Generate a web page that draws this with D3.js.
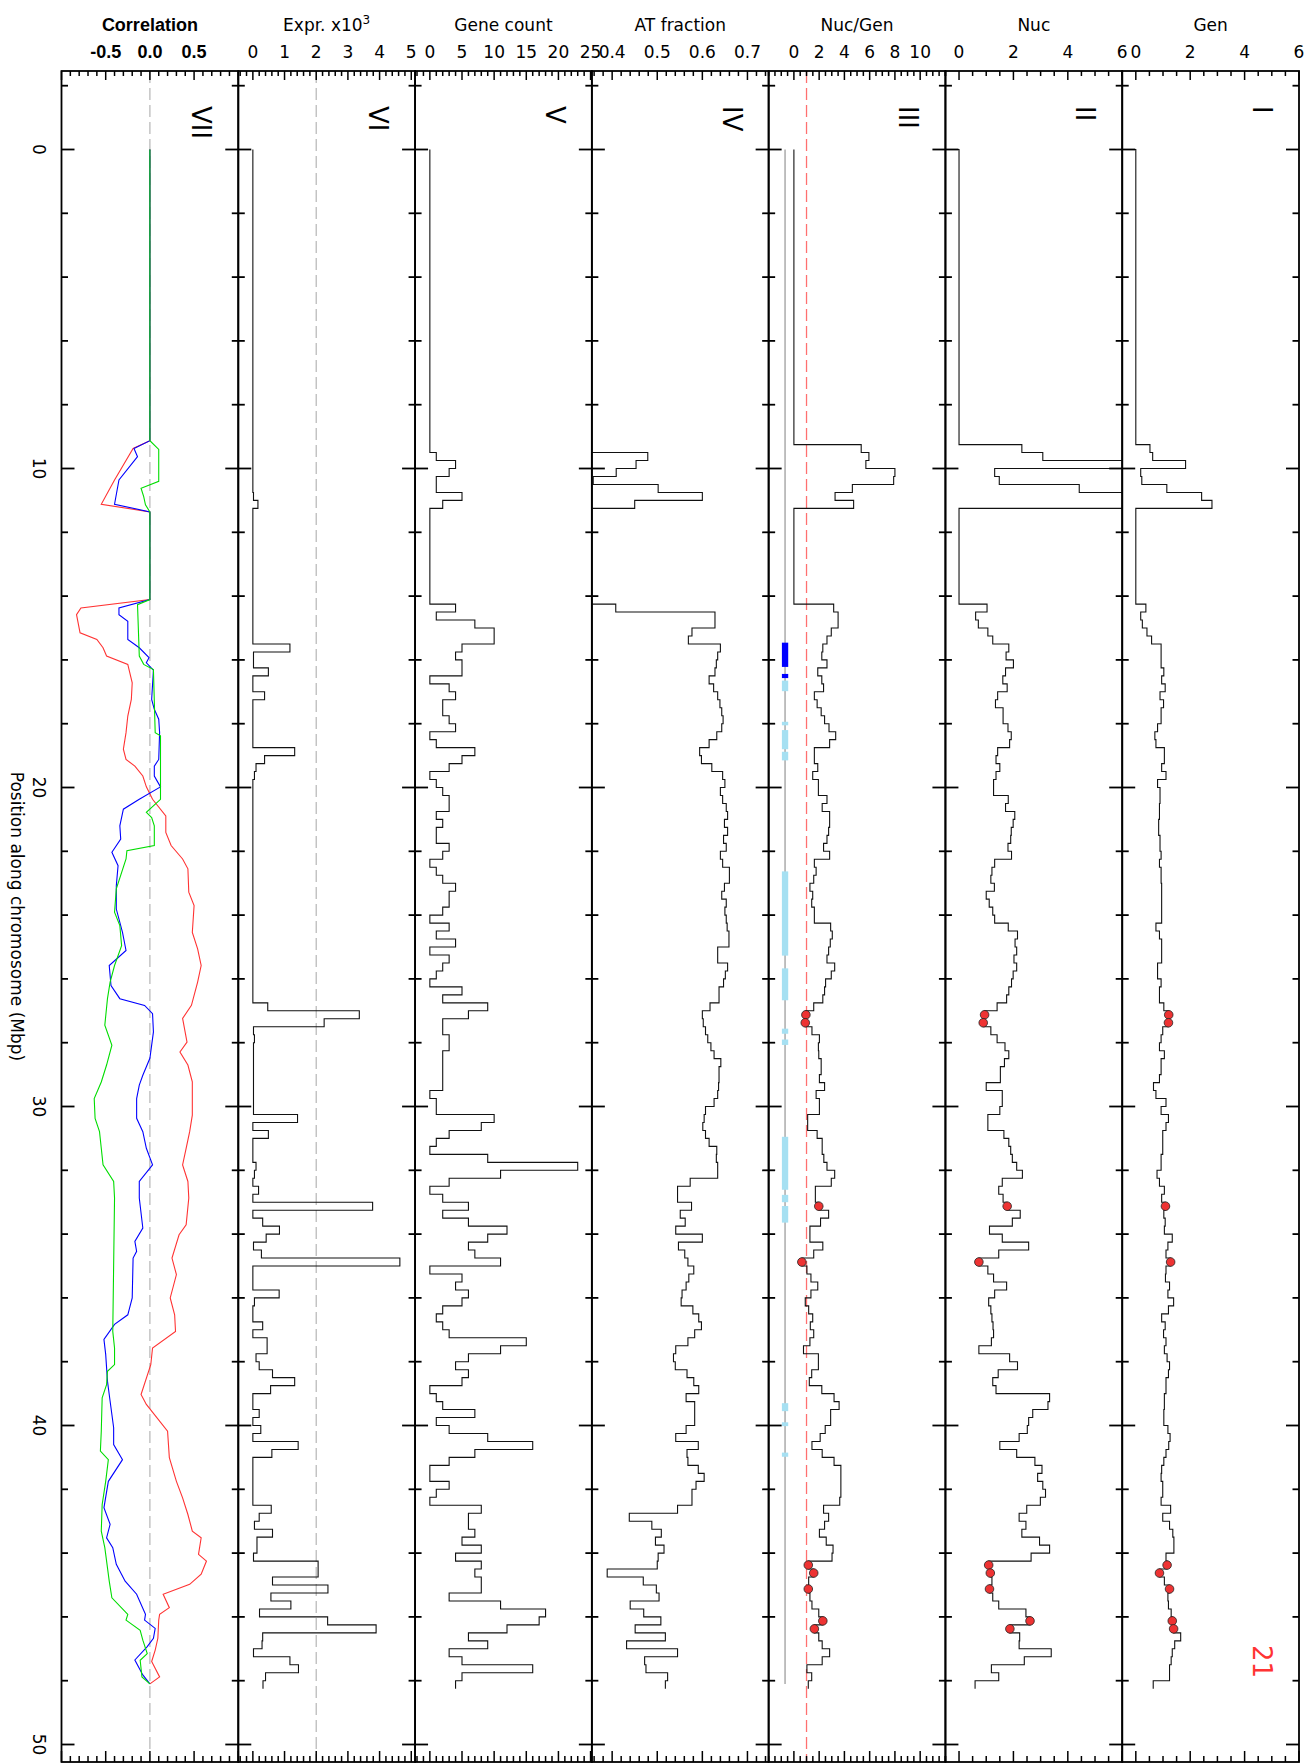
<!DOCTYPE html>
<html>
<head>
<meta charset="utf-8">
<script src="https://cdn.jsdelivr.net/npm/d3@7"></script>
<style>
  body { margin: 0; background: #fff; }
  svg { display: block; }
  text { font-family: "DejaVu Sans", "Liberation Sans", Arial, sans-serif; fill: #000; }
  text.bold { font-family: "Liberation Sans", Arial, sans-serif; font-weight: bold; }
</style>
</head>
<body>
<svg id="chart" width="1315" height="1764"></svg>
<script>
// ---------------- DATA ----------------
const panelTitles   = ["Correlation", "Expr. x10", "Gene count", "AT fraction", "Nuc/Gen", "Nuc", "Gen"];
const panelNumerals = ["VII", "VI", "V", "IV", "III", "II", "I"];
const panelDomains  = [[-1, 1], [-0.46, 5.12], [-2.3, 25.2], [0.355, 0.747], [-2, 12], [-0.5, 6], [-0.5, 6]];
const panelTickLabels = [
  [-0.5, 0, 0.5],
  [0, 1, 2, 3, 4, 5],
  [0, 5, 10, 15, 20, 25],
  [0.4, 0.5, 0.6, 0.7],
  [0, 2, 4, 6, 8, 10],
  [0, 2, 4, 6],
  [0, 2, 4, 6]
];
const panelMinorStep = [0.1, 0.2, 1, 0.02, 0.5, 0.5, 0.5];
const positionTicks = [0, 10, 20, 30, 40, 50];
const chromosomeLabel = "21";
const chromEnd = 48.25;
const trackEnd = 48.1;

// Correlation traces: [position Mbp, r]
const corrRed = [[0,0],[9.13,0],[9.37,-0.19],[10.36,-0.40],[11.12,-0.55],[11.36,0],[14.11,0],[14.37,-0.78],[14.58,-0.83],
  [15.15,-0.79],[15.36,-0.60],[15.62,-0.53],[15.88,-0.49],[16.14,-0.25],[16.72,-0.20],[17.24,-0.21],[17.76,-0.25],
  [18.28,-0.27],[18.80,-0.30],[19.12,-0.27],[19.33,-0.17],[19.64,-0.08],[19.98,-0.04],[20.37,0.03],[20.89,0.18],
  [21.41,0.18],[21.82,0.24],[22.24,0.37],[22.55,0.43],[23.28,0.44],[23.70,0.50],[24.54,0.48],[25.06,0.54],[25.58,0.58],
  [26.10,0.54],[26.83,0.47],[27.24,0.37],[27.98,0.42],[28.29,0.34],[28.70,0.43],[29.23,0.48],[30.27,0.48],[30.79,0.45],
  [31.31,0.41],[31.83,0.37],[32.35,0.43],[32.87,0.44],[33.71,0.41],[34.02,0.33],[34.75,0.25],[35.27,0.30],[36.00,0.23],
  [36.53,0.28],[37.05,0.29],[37.57,0.03],[38.09,0.01],[39.03,-0.10],[39.34,-0.04],[40.18,0.20],[41.01,0.22],[41.75,0.30],
  [42.27,0.37],[42.79,0.43],[43.31,0.48],[43.52,0.58],[44.04,0.55],[44.25,0.64],[44.66,0.58],[44.98,0.45],[45.29,0.15],
  [45.71,0.22],[45.92,0.11],[46.10,0.10],[46.67,0.09],[47.04,0.06],[47.40,0.02],[47.88,0.11],[48.1,0]];
const corrBlue = [[0,0],[9.13,0],[9.37,-0.18],[9.63,-0.14],[10.36,-0.35],[11.12,-0.40],[11.36,0],[14.11,0],[14.37,-0.35],
  [14.58,-0.35],[14.79,-0.25],[15.36,-0.25],[15.62,-0.12],[15.93,-0.01],[16.09,-0.04],[16.32,0.04],[17.24,0.02],
  [17.55,0.05],[17.86,0.10],[18.28,0.11],[19.12,0.10],[19.33,0.05],[19.64,0.05],[19.98,0.12],[20.37,-0.12],[20.68,-0.30],
  [21.20,-0.34],[21.62,-0.33],[22.03,-0.43],[22.45,-0.36],[23.08,-0.38],[23.81,-0.38],[24.54,-0.31],[25.11,-0.27],
  [25.58,-0.46],[26.21,-0.44],[26.62,-0.34],[26.83,-0.06],[27.09,0.03],[27.66,0.04],[28.49,0.0],[29.02,-0.08],
  [29.33,-0.12],[29.75,-0.15],[30.37,-0.15],[30.79,-0.08],[31.31,-0.04],[31.83,0.03],[32.35,-0.12],[32.87,-0.12],
  [33.81,-0.08],[34.23,-0.17],[34.54,-0.15],[34.75,-0.19],[36.00,-0.20],[36.53,-0.25],[36.83,-0.40],[37.30,-0.52],
  [37.77,-0.50],[38.61,-0.48],[39.24,-0.45],[40.07,-0.41],[40.60,-0.41],[41.07,-0.31],[41.75,-0.47],[42.58,-0.52],
  [43.10,-0.45],[43.52,-0.49],[43.83,-0.42],[44.35,-0.38],[44.88,-0.28],[45.29,-0.15],[45.92,-0.05],[46.10,-0.06],
  [46.36,0.06],[46.67,0.04],[46.93,-0.03],[47.35,-0.17],[47.82,-0.08],[48.1,0]];
const corrGreen = [[0,0],[9.13,0],[9.40,0.10],[10.40,0.10],[10.62,-0.10],[10.88,-0.07],[11.14,-0.05],[11.36,0],[14.11,0],
  [14.27,-0.14],[15.88,-0.12],[16.14,-0.07],[16.30,0.04],[18.28,0.06],[18.38,0.12],[19.98,0.12],[20.37,0.12],[20.78,-0.04],
  [20.94,0.02],[21.20,0.05],[21.82,0.05],[21.98,-0.26],[22.24,-0.27],[23.18,-0.38],[23.91,-0.40],[24.33,-0.34],
  [24.96,-0.32],[25.58,-0.40],[26.10,-0.45],[26.62,-0.48],[27.45,-0.51],[28.08,-0.43],[28.70,-0.49],[29.23,-0.55],
  [29.75,-0.63],[30.37,-0.62],[30.79,-0.57],[31.31,-0.55],[31.83,-0.53],[32.35,-0.41],[32.87,-0.40],[37.05,-0.42],
  [37.57,-0.40],[38.09,-0.40],[38.30,-0.48],[38.72,-0.49],[39.13,-0.54],[40.18,-0.55],[40.80,-0.56],[41.07,-0.47],
  [41.75,-0.50],[42.48,-0.54],[43.31,-0.55],[43.83,-0.51],[44.88,-0.46],[45.40,-0.43],[45.92,-0.25],[46.10,-0.27],
  [46.42,-0.11],[46.73,-0.08],[47.15,-0.03],[47.36,-0.11],[47.88,-0.09],[48.1,0]];

// Step series: [bin start Mbp, value]
const exprSteps = [[0,0],[10.75,0.02],[11,0.16],[11.25,0],[15.5,1.17],[15.75,0.02],[16.25,0.49],[16.5,0],[17,0.37],[17.25,0],
  [18.75,1.32],[19,0.37],[19.25,0.1],[19.5,0.05],[19.75,0],[26.75,0.47],[27,3.36],[27.25,2.25],[27.5,0.02],[27.75,0.05],
  [28,0.02],[30.25,1.41],[30.5,0],[30.75,0.49],[31,0],[31.75,0.1],[32,0.05],[32.25,0],[32.5,0.18],[32.75,0],[33,3.78],
  [33.25,0],[33.5,0.31],[33.75,0.84],[34,0.42],[34.25,0.02],[34.5,0.27],[34.75,4.64],[35,0],[35.75,0.83],[36,0.05],
  [36.25,0],[36.75,0.31],[37,0],[37.25,0.45],[37.75,0.1],[38,0.2],[38.25,0.62],[38.5,1.32],[38.75,0.56],[39,0],[39.5,0.2],
  [39.75,0],[40,0.25],[40.25,0],[40.5,1.43],[40.75,0.6],[41,0],[42.5,0.58],[42.75,0.2],[43,0.05],[43.25,0.62],[43.5,0.13],
  [44,0.02],[44.25,2.06],[44.75,0.62],[45,2.37],[45.25,0.57],[45.5,1.2],[45.75,0.21],[46,2.36],[46.25,3.89],[46.5,0.31],
  [46.75,0.29],[47,0.02],[47.25,1.17],[47.5,1.44],[47.75,0.4],[48,0.32]];
const geneSteps = [[0,0],[9.5,1],[9.75,4],[10,3],[10.25,1],[10.75,5],[11,2],[11.25,0],[14.25,4],[14.5,1],[14.75,7],[15,10],
  [15.5,5],[15.75,4],[16,5],[16.5,0],[16.75,3],[17,4],[17.25,2],[17.75,3],[18,4],[18.25,0],[18.5,1],[18.75,7],[19,5],
  [19.25,3],[19.5,0],[19.75,1],[20,2],[20.25,3],[20.75,1],[21,2],[21.25,1],[21.75,3],[22,2],[22.25,0],[22.5,1],[22.75,2],
  [23,4],[23.25,3],[23.75,2],[24,0],[24.25,3],[24.5,1],[24.75,4],[25,0],[25.25,3],[25.5,2],[25.75,1],[26,0],[26.25,5],
  [26.5,2],[26.75,9],[27,6],[27.25,2],[27.75,3],[28.25,2],[29.5,0],[29.75,1],[30.25,10],[30.5,8],[30.75,3],[31,1],[31.25,0],
  [31.5,9],[31.75,23],[32,11],[32.25,3],[32.5,0],[32.75,2],[33,6],[33.25,2],[33.5,6],[33.75,12],[34,9],[34.25,6],[34.5,7],
  [34.75,11],[35,0],[35.25,5],[35.5,4],[35.75,6],[36,5],[36.25,2],[36.5,1],[36.75,2],[37,3],[37.25,15],[37.5,11],[37.75,6],
  [38,4],[38.25,6],[38.5,5],[38.75,0],[39,1],[39.25,2],[39.5,7],[39.75,1],[40,3],[40.25,9],[40.5,16],[40.75,7],[41,3],
  [41.25,0],[41.75,3],[42,1],[42.25,0],[42.5,8],[42.75,6],[43.25,7],[43.5,5],[43.75,8],[44,4],[44.25,8],[44.5,7],[44.75,8],
  [45.25,3],[45.5,11],[45.75,18],[46,17],[46.25,12],[46.5,6],[46.75,9],[47,3],[47.25,5],[47.5,16],[47.75,5],[48,4]];
const atSteps = [[0,0],[9.5,0.479],[9.75,0.453],[10,0.409],[10.25,0.358],[10.5,0.502],[10.75,0.600],[11,0.450],[11.25,0],
  [14.25,0.408],[14.5,0.628],[15,0.577],[15.25,0.569],[15.5,0.640],[15.75,0.634],[16,0.631],[16.25,0.628],[16.5,0.615],
  [16.75,0.625],[17,0.634],[17.25,0.639],[17.5,0.643],[17.75,0.646],[18,0.643],[18.25,0.632],[18.5,0.615],[18.75,0.594],
  [19,0.598],[19.25,0.621],[19.5,0.645],[19.75,0.650],[20,0.640],[20.25,0.645],[20.5,0.653],[20.75,0.656],[21,0.649],
  [21.25,0.656],[21.5,0.647],[21.75,0.653],[22,0.640],[22.25,0.645],[22.5,0.660],[23,0.649],[23.25,0.643],[23.5,0.653],
  [23.75,0.650],[24,0.653],[24.25,0.655],[24.5,0.659],[25,0.634],[25.5,0.656],[25.75,0.651],[26,0.647],[26.25,0.637],
  [26.75,0.617],[27,0.600],[27.25,0.602],[27.5,0.607],[27.75,0.612],[28,0.619],[28.25,0.626],[28.5,0.641],[28.75,0.637],
  [29.25,0.636],[29.5,0.634],[29.75,0.626],[30,0.607],[30.25,0.604],[30.5,0.601],[30.75,0.607],[31,0.615],[31.25,0.632],
  [31.5,0.631],[31.75,0.634],[32.25,0.573],[32.5,0.545],[33,0.576],[33.25,0.551],[33.5,0.562],[33.75,0.541],[34,0.600],
  [34.25,0.547],[34.5,0.561],[34.75,0.568],[35,0.581],[35.25,0.570],[35.5,0.564],[35.75,0.555],[36,0.553],[36.25,0.579],
  [36.5,0.592],[36.75,0.598],[37,0.583],[37.25,0.568],[37.5,0.541],[37.75,0.536],[38,0.540],[38.25,0.566],[38.5,0.581],
  [38.75,0.592],[39,0.564],[39.25,0.583],[40,0.564],[40.25,0.541],[40.5,0.591],[40.75,0.566],[41,0.568],[41.25,0.591],
  [41.5,0.604],[41.75,0.586],[42,0.577],[42.5,0.545],[42.75,0.438],[43,0.488],[43.25,0.509],[43.5,0.496],[43.75,0.515],
  [44,0.502],[44.25,0.500],[44.5,0.389],[44.75,0.469],[45,0.498],[45.25,0.504],[45.5,0.440],[45.75,0.470],[46,0.508],
  [46.25,0.451],[46.5,0.518],[46.75,0.432],[47,0.545],[47.25,0.472],[47.5,0.475],[47.75,0.523],[48,0.518]];
const nucGenSteps = [[0,0],[9.25,5.33],[9.5,5.94],[9.75,5.70],[10,8.0],[10.25,7.9],[10.5,4.63],[10.75,3.26],[11,4.73],[11.25,0],
  [14.25,3.15],[14.5,3.50],[15,2.96],[15.25,2.62],[15.5,2.29],[15.75,2.21],[16,2.62],[16.25,1.89],[16.5,2.21],[16.75,2.35],
  [17,1.62],[17.25,1.84],[17.5,2.16],[17.75,2.43],[18,2.78],[18.25,3.31],[18.5,2.83],[18.75,1.62],[19.25,1.89],[19.5,1.49],
  [19.75,1.94],[20.25,2.62],[20.5,2.24],[20.75,2.83],[21.25,2.75],[21.5,2.62],[21.75,2.35],[22,2.83],[22.25,1.62],[22.5,1.76],
  [22.75,1.57],[23,1.27],[23.25,1.49],[23.5,1.41],[23.75,1.62],[24.25,2.91],[24.5,3.04],[24.75,2.88],[25,2.75],[25.25,2.62],
  [25.5,3.23],[25.75,2.96],[26,2.51],[26.25,2.43],[26.5,2.29],[26.75,1.57],[27,0.95],[27.25,0.90],[27.5,1.43],[27.75,2.02],
  [28,1.94],[28.25,1.97],[28.5,2.16],[29,2.02],[29.25,2.43],[29.5,1.76],[29.75,2.02],[30.25,1.09],[30.75,1.84],[31,2.24],
  [31.5,2.37],[31.75,2.62],[32,3.23],[32.25,2.96],[32.5,1.70],[33,1.97],[33.25,2.75],[33.5,2.11],[33.75,1.27],[34.25,2.29],
  [34.5,1.57],[34.75,0.63],[35,1.03],[35.25,1.35],[35.5,1.89],[35.75,1.35],[36,0.90],[36.25,1.17],[36.5,1.49],[36.75,1.30],
  [37,1.57],[37.25,1.27],[37.5,0.76],[37.75,1.94],[38.25,1.41],[38.5,1.22],[38.75,2.21],[39,3.18],[39.25,3.58],[39.5,2.91],
  [40,2.48],[40.25,2.08],[40.5,1.43],[40.75,2.24],[41,3.18],[41.25,3.72],[42.25,3.63],[42.5,2.35],[42.75,2.75],[43,2.43],
  [43.25,2.02],[43.5,2.56],[43.75,3.10],[44,3.02],[44.25,1.14],[44.5,1.57],[44.75,1.17],[45,1.14],[45.25,1.27],[45.5,1.43],
  [45.75,1.97],[46,2.29],[46.25,1.62],[46.5,1.97],[46.75,2.24],[47,2.83],[47.25,2.24],[47.5,1.03],[47.75,1.41],[48,1.14]];
const nucSteps = [[0,0],[9.25,2.31],[9.5,3.08],[9.75,7],[10,1.31],[10.25,1.48],[10.5,4.42],[10.75,7],[11.25,0],[14.25,1.03],
  [14.5,0.61],[14.75,0.71],[15,1.06],[15.25,1.24],[15.5,1.83],[15.75,1.73],[16,2.00],[16.25,1.71],[16.5,1.61],[16.75,1.77],
  [17,1.42],[17.25,1.34],[17.5,1.62],[18,1.80],[18.25,1.92],[18.5,1.86],[18.75,1.42],[19,1.36],[19.25,1.50],[19.5,1.36],
  [19.75,1.27],[20.25,1.81],[20.5,1.71],[20.75,2.05],[21,1.99],[21.25,1.92],[21.5,1.90],[21.75,1.80],[22,1.93],[22.25,1.31],
  [22.5,1.21],[22.75,1.17],[23,1.30],[23.25,1.00],[23.5,1.11],[23.75,1.24],[24,1.31],[24.25,1.81],[24.5,2.15],[24.75,2.06],
  [25,2.12],[25.25,2.02],[25.5,2.12],[25.75,1.99],[26,1.93],[26.25,1.83],[26.5,1.75],[26.75,1.40],[27,0.94],[27.25,0.89],
  [27.5,1.17],[27.75,1.40],[28,1.69],[28.25,1.83],[28.5,1.67],[28.75,1.52],[29.25,1.00],[29.5,1.59],[30,1.50],[30.25,1.06],
  [30.75,1.65],[31,1.83],[31.25,1.90],[31.5,1.96],[31.75,2.12],[32,2.33],[32.25,1.59],[32.5,1.46],[32.75,1.62],[33,1.77],
  [33.25,2.25],[33.5,1.96],[33.75,1.12],[34,1.59],[34.25,2.56],[34.5,1.46],[34.75,0.73],[35,1.06],[35.25,1.27],[35.5,1.75],
  [35.75,1.31],[36,1.09],[36.25,1.17],[36.5,1.21],[36.75,1.25],[37,1.27],[37.25,1.19],[37.5,0.73],[37.75,1.86],[38,2.15],
  [38.25,1.44],[38.5,1.24],[38.75,1.36],[39,3.33],[39.25,3.27],[39.5,2.71],[39.75,2.56],[40,2.51],[40.25,2.21],[40.5,1.50],
  [40.75,2.12],[41,2.79],[41.25,3.05],[41.5,2.89],[41.75,3.08],[42,3.18],[42.25,2.99],[42.5,2.49],[42.75,2.21],[43,2.46],
  [43.25,2.31],[43.5,2.96],[43.75,3.33],[44,2.65],[44.25,1.09],[44.5,1.15],[44.75,1.21],[45,1.12],[45.25,1.24],[45.5,1.46],
  [45.75,2.46],[46,2.61],[46.25,1.87],[46.5,2.23],[46.75,2.21],[47,3.39],[47.25,2.40],[47.5,1.19],[47.75,1.46],[48,0.59]];
const genSteps = [[0,0],[9.25,0.52],[9.5,0.62],[9.75,1.83],[10,0.18],[10.25,0.22],[10.5,1.14],[10.75,2.42],[11,2.80],[11.25,0],
  [14.25,0.37],[14.5,0.18],[14.75,0.24],[15,0.41],[15.25,0.58],[15.5,0.93],[16.25,1.03],[16.5,0.95],[16.75,1.08],[17,0.89],
  [17.25,1.02],[17.5,0.93],[18,0.80],[18.25,0.70],[18.5,0.74],[18.75,1.05],[19.25,0.95],[19.5,1.11],[19.75,0.80],[20,0.89],
  [20.5,0.87],[21,0.84],[21.5,0.89],[22,0.93],[22.25,0.87],[22.5,0.93],[23,0.95],[24.25,0.74],[24.5,0.87],[24.75,0.95],
  [25.5,0.80],[26,0.93],[26.25,0.87],[26.75,1.03],[27,1.21],[27.25,1.20],[27.5,0.99],[27.75,0.93],[28,0.87],[28.25,1.05],
  [28.5,0.93],[29,0.87],[29.25,0.65],[29.5,0.74],[29.75,1.11],[30,0.93],[30.25,1.20],[30.5,1.11],[30.75,0.99],[31.5,0.93],
  [32,0.78],[32.25,0.87],[32.5,1.05],[32.75,0.95],[33,1.09],[33.25,1.03],[33.5,1.08],[33.75,1.05],[34,1.34],[34.25,1.18],
  [34.5,1.11],[34.75,1.28],[35,1.11],[35.25,1.09],[35.5,1.24],[35.75,1.18],[36,1.39],[36.25,1.20],[36.5,0.95],[36.75,1.08],
  [37,1.02],[37.25,1.11],[37.5,1.05],[37.75,1.15],[38,1.24],[38.25,1.20],[38.5,1.11],[39,1.05],[39.5,1.03],[40,1.18],
  [40.25,1.26],[40.5,1.21],[40.75,1.11],[41,1.03],[41.25,0.95],[41.5,0.93],[41.75,0.99],[42.25,0.93],[42.5,1.28],[42.75,0.99],
  [43,1.24],[43.25,1.36],[43.5,1.40],[44,1.11],[44.25,1.15],[44.5,0.87],[44.75,1.05],[45,1.24],[45.25,1.18],[45.5,1.20],
  [45.75,1.30],[46,1.34],[46.25,1.39],[46.5,1.65],[46.75,1.43],[47,1.34],[47.25,1.30],[47.5,1.24],[48,0.64]];

// Highlighted bins (bin centres, Mbp)
const markedBins = [27.125, 27.375, 33.125, 34.875, 44.375, 44.625, 45.125, 46.125, 46.375];
// Bands drawn beside the Nuc/Gen trace: [from, to] in Mbp
const darkBands  = [[15.46,16.22],[16.44,16.57]];
const lightBands = [[16.65,16.98],[17.94,18.05],[18.2,18.8],[18.88,19.15],[22.63,25.27],[25.67,26.67],[27.56,27.72],
  [27.9,28.07],[30.95,32.61],[32.77,33.0],[33.12,33.64],[39.3,39.55],[39.9,40.02],[40.85,40.98]];
const bandRange = [-0.95, -0.45];
const trackLineValue = -0.7;
const refLines = [{panel: 0, v: 0, color: "#bbbbbb"}, {panel: 1, v: 2, color: "#bbbbbb"}, {panel: 4, v: 1, color: "#ff7070"}];

// ---------------- LAYOUT ----------------
const W = 1315, H = 1764;
const plotLeft = 61.5, plotRight = 1299, plotTop = 71, plotBottom = 1762;
const nP = 7, pw = (plotRight - plotLeft) / nP;
const y = d3.scaleLinear().domain([0, 50]).range([149.5, 1744.5]);
const posAll = d3.range(-2, 51, 2);

const svg = d3.select("#chart");
const defs = svg.append("defs");

const xs = panelDomains.map((dom, i) => d3.scaleLinear().domain(dom).range([plotLeft + i * pw, plotLeft + (i + 1) * pw]));

function fmtTick(i, v) {
  if (i === 0 || i === 3) return v.toFixed(1).replace("\u2212", "-");
  return String(v);
}

function stepPoints(steps, end, lead) {
  const pts = [];
  steps.forEach((s, k) => {
    const p1 = k + 1 < steps.length ? steps[k + 1][0] : end;
    if (k === 0 && lead !== undefined) pts.push([lead, s[0]]);
    pts.push([s[1], s[0]]);
    pts.push([s[1], p1]);
  });
  return pts;
}
function valueAt(steps, p) {
  let v = steps[0][1];
  for (const s of steps) { if (s[0] <= p) v = s[1]; else break; }
  return v;
}

panelDomains.forEach((dom, i) => {
  const x = xs[i];
  const x0 = plotLeft + i * pw, x1 = x0 + pw;
  const g = svg.append("g");
  defs.append("clipPath").attr("id", "clip" + i)
    .append("rect").attr("x", x0).attr("y", plotTop).attr("width", pw).attr("height", plotBottom - plotTop);
  const gc = g.append("g").attr("clip-path", "url(#clip" + i + ")");

  // reference dashed lines
  refLines.filter(r => r.panel === i).forEach(r => {
    gc.append("line").attr("x1", x(r.v)).attr("x2", x(r.v)).attr("y1", plotTop).attr("y2", plotBottom)
      .attr("stroke", r.color).attr("stroke-width", 1.3).attr("stroke-dasharray", "12,5");
  });

  const lineGen = d3.line().x(d => x(d[0])).y(d => y(d[1]));

  if (i === 0) {
    [[corrRed, "#ff3333"], [corrBlue, "#0000ff"], [corrGreen, "#00dd00"]].forEach(([data, col]) => {
      gc.append("path").attr("d", lineGen(data.map(d => [d[1], d[0]])))
        .attr("fill", "none").attr("stroke", col).attr("stroke-width", 1.1);
    });
  } else {
    const series = [null, exprSteps, geneSteps, atSteps, nucGenSteps, nucSteps, genSteps][i];
    const lead = (i >= 5) ? dom[0] - 1 : undefined;
    if (i === 4) {
      gc.append("line").attr("x1", x(trackLineValue)).attr("x2", x(trackLineValue))
        .attr("y1", y(0)).attr("y2", y(trackEnd)).attr("stroke", "#b0b0b0").attr("stroke-width", 1.6);
      gc.selectAll("rect.lb").data(lightBands).enter().append("rect")
        .attr("x", x(bandRange[0])).attr("width", x(bandRange[1]) - x(bandRange[0]))
        .attr("y", d => y(d[0])).attr("height", d => y(d[1]) - y(d[0])).attr("fill", "#a6e0f2");
      gc.selectAll("rect.db").data(darkBands).enter().append("rect")
        .attr("x", x(bandRange[0])).attr("width", x(bandRange[1]) - x(bandRange[0]))
        .attr("y", d => y(d[0])).attr("height", d => y(d[1]) - y(d[0])).attr("fill", "#0000ff");
    }
    gc.append("path").attr("d", lineGen(stepPoints(series, chromEnd, lead)))
      .attr("fill", "none").attr("stroke", "#111").attr("stroke-width", 1.1);
    if (i >= 4) {
      gc.selectAll("ellipse.dot").data(markedBins).enter().append("ellipse")
        .attr("cx", p => x(valueAt(series, p))).attr("cy", p => y(p))
        .attr("rx", 4.3).attr("ry", 4.3)
        .attr("fill", "#ee3333").attr("stroke", "#222").attr("stroke-width", 0.8);
    }
  }

  // frame
  g.append("rect").attr("x", x0).attr("y", plotTop).attr("width", pw).attr("height", plotBottom - plotTop)
    .attr("fill", "none").attr("stroke", "#000").attr("stroke-width", 1.8);

  // top & bottom ticks
  const step = panelMinorStep[i];
  const nMin = Math.ceil(dom[0] / step - 1e-6), nMax = Math.floor(dom[1] / step + 1e-6);
  const majors = panelTickLabels[i];
  for (let k = nMin; k <= nMax; k++) {
    const v = +(k * step).toFixed(6);
    const isMajor = majors.some(m => Math.abs(m - v) < 1e-6) || (i === 0 && Math.abs(Math.abs(v) - 1) < 1e-6);
    const xx = x(v);
    const lt = isMajor ? 9 : 5, lb = isMajor ? 11 : 6;
    g.append("line").attr("x1", xx).attr("x2", xx).attr("y1", plotTop).attr("y2", plotTop + lt)
      .attr("stroke", "#000").attr("stroke-width", 1.5);
    g.append("line").attr("x1", xx).attr("x2", xx).attr("y1", plotBottom).attr("y2", plotBottom - lb)
      .attr("stroke", "#000").attr("stroke-width", 1.5);
  }
  // tick labels
  g.selectAll("text.tl").data(majors).enter().append("text")
    .attr("class", i === 0 ? "bold" : null)
    .attr("x", d => x(d)).attr("y", 58).attr("text-anchor", "middle")
    .attr("font-size", i === 0 ? 18 : 17).text(d => fmtTick(i, d));
  // title
  const t = g.append("text").attr("class", i === 0 ? "bold" : null)
    .attr("x", (x0 + x1) / 2).attr("y", 31).attr("text-anchor", "middle").attr("font-size", i === 0 ? 18 : 17)
    .text(panelTitles[i]);
  if (i === 1) t.append("tspan").attr("dy", -7).attr("font-size", 12).text("3");

  // position ticks on both sides (inward)
  posAll.forEach(p => {
    const L = (p % 10 === 0) ? 13 : 6.5;
    g.append("line").attr("x1", x0).attr("x2", x0 + L).attr("y1", y(p)).attr("y2", y(p)).attr("stroke", "#000").attr("stroke-width", 1.8);
    g.append("line").attr("x1", x1).attr("x2", x1 - L).attr("y1", y(p)).attr("y2", y(p)).attr("stroke", "#000").attr("stroke-width", 1.8);
  });

  // roman numeral
  g.append("text").attr("transform", `translate(${x1 - 37},106) rotate(90)`)
    .attr("font-size", 26).attr("dominant-baseline", "central").attr("text-anchor", "start").text(panelNumerals[i]);
});

// position labels
positionTicks.forEach(p => {
  svg.append("text").attr("transform", `translate(39,${y(p)}) rotate(90)`)
    .attr("text-anchor", "middle").attr("dominant-baseline", "central").attr("font-size", 17).text(String(p));
});
svg.append("text").attr("transform", `translate(17,${(plotTop + plotBottom) / 2}) rotate(90)`)
  .attr("text-anchor", "middle").attr("dominant-baseline", "central").attr("font-size", 17)
  .text("Position along chromosome (Mbp)");

// chromosome label
svg.append("text").attr("transform", `translate(${plotRight - 37},1645) rotate(90)`)
  .attr("text-anchor", "start").attr("dominant-baseline", "central").attr("font-size", 26)
  .style("fill", "#ff3333").text(chromosomeLabel);
</script>
</body>
</html>
